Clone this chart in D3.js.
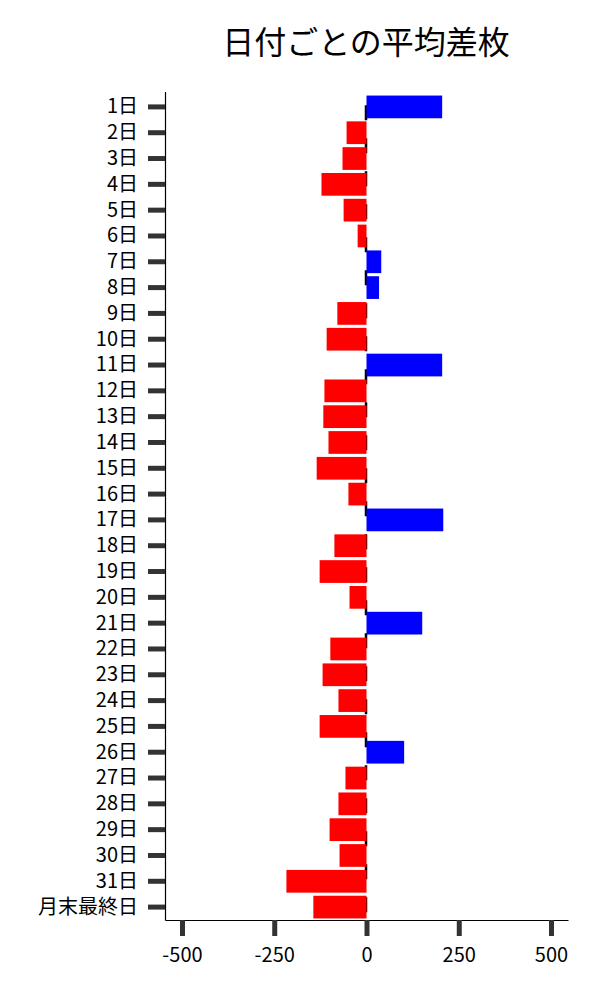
<!DOCTYPE html>
<html>
<head>
<meta charset="utf-8">
<script src="https://cdn.jsdelivr.net/npm/d3@7"></script>
<style>
  body { margin: 0; background: #fff; }
  text { font-family: "Noto Sans CJK JP", "Noto Sans", sans-serif; }
</style>
</head>
<body>
<svg id="chart" width="600" height="1000"></svg>
<script>
const days = ["1日","2日","3日","4日","5日","6日","7日","8日","9日","10日",
  "11日","12日","13日","14日","15日","16日","17日","18日","19日","20日",
  "21日","22日","23日","24日","25日","26日","27日","28日","29日","30日","31日","月末最終日"];
const avgDiff = [205, -54, -65, -122, -62, -24, 40, 34, -79, -108,
  205, -114, -117, -103, -135, -49, 208, -87, -127, -46,
  151, -98, -119, -76, -127, 102, -57, -76, -100, -73, -217, -144];
const xTicks = [-500, -250, 0, 250, 500];

const svg = d3.select("#chart");

const x = d3.scaleLinear().domain([-546, 546]).range([165, 568]);
const y = d3.scaleBand().domain(days).range([94, 920]).paddingInner(0.12).paddingOuter(0.06);

svg.append("text")
  .attr("x", 366)
  .attr("y", 54)
  .attr("text-anchor", "middle")
  .attr("font-size", 32)
  .attr("fill", "#000")
  .text("日付ごとの平均差枚");

// dashed zero line
svg.append("line")
  .attr("x1", x(0) - 0.5).attr("x2", x(0) - 0.5)
  .attr("y1", 93).attr("y2", 920)
  .attr("stroke", "#000")
  .attr("stroke-width", 2.5)
  .attr("stroke-dasharray", "15,18")
  .attr("stroke-dashoffset", 20.7);

svg.append("g")
  .selectAll("rect")
  .data(days.map((d, i) => ({ day: d, v: avgDiff[i] })))
  .join("rect")
  .attr("x", d => x(Math.min(0, d.v)))
  .attr("width", d => Math.abs(x(d.v) - x(0)))
  .attr("y", d => y(d.day))
  .attr("height", y.bandwidth())
  .attr("fill", d => d.v >= 0 ? "#0000ff" : "#ff0000");

const xAxis = svg.append("g")
  .attr("transform", "translate(0,920)")
  .call(d3.axisBottom(x).tickValues(xTicks).tickFormat(d => String(d))
    .tickSizeInner(16).tickSizeOuter(0).tickPadding(12));

const yAxis = svg.append("g")
  .attr("transform", "translate(165,0)")
  .call(d3.axisLeft(y).tickSizeInner(17).tickSizeOuter(0).tickPadding(10));

yAxis.select(".domain").attr("d", "M0.5,92V920.5");

[xAxis, yAxis].forEach(a => {
  a.select(".domain").attr("stroke", "#000").attr("stroke-width", 1.2);
  a.selectAll(".tick line").attr("stroke", "#333").attr("stroke-width", 5);
  a.selectAll(".tick text").attr("font-size", 20).attr("fill", "#000")
    .attr("font-family", "'Noto Sans CJK JP', sans-serif");
});
</script>
</body>
</html>
